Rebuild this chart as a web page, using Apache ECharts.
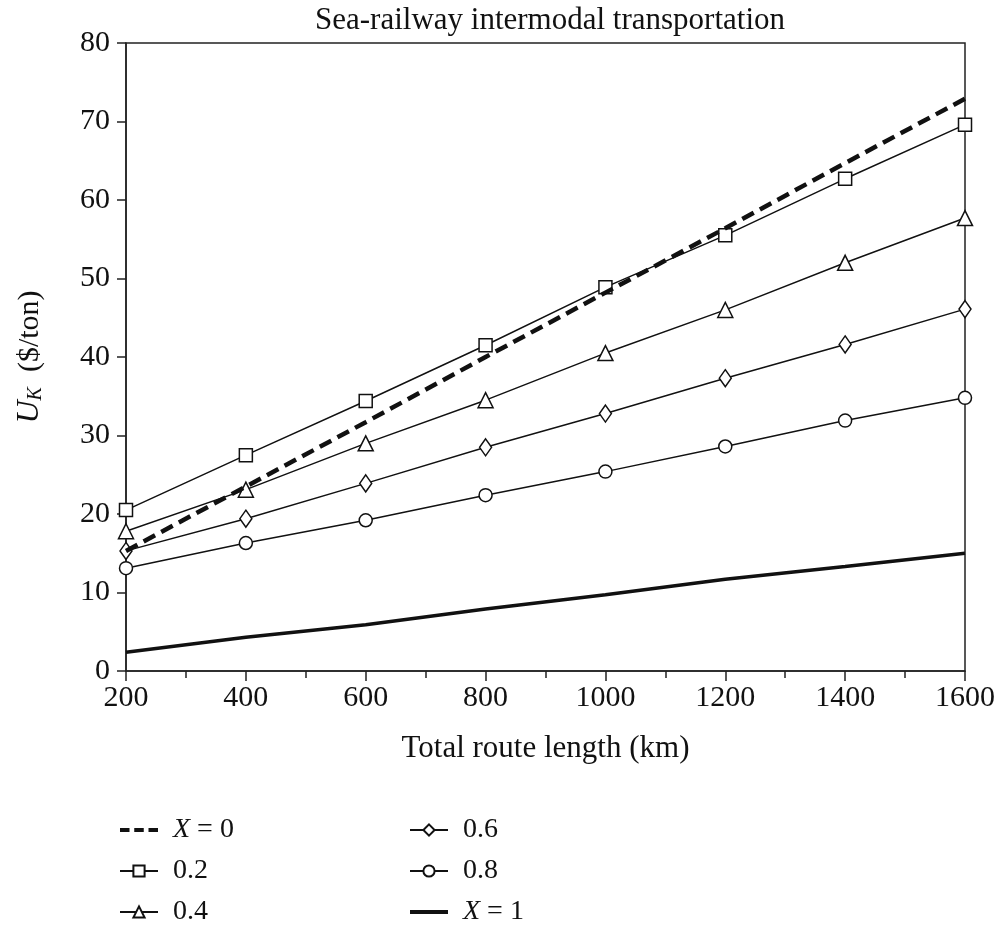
<!DOCTYPE html>
<html>
<head>
<meta charset="utf-8">
<script src="https://cdn.jsdelivr.net/npm/echarts@6/dist/echarts.min.js"></script>
<style>
  html, body { margin: 0; padding: 0; background: #fff; }
  #chart { width: 1002px; height: 928px; }
</style>
</head>
<body>
<div id="chart"></div>
<script>
// route lengths (km)
const routeLength = [200, 400, 600, 800, 1000, 1200, 1400, 1600]

// U_K ($/ton) per share X
const x00 = [15.3, 23.5, 31.7, 40.0, 48.2, 56.4, 64.7, 72.9]
const x02 = [20.5, 27.5, 34.4, 41.5, 48.9, 55.5, 62.7, 69.6]
const x04 = [17.8, 23.1, 29.0, 34.5, 40.5, 46.0, 52.0, 57.7]
const x06 = [15.3, 19.4, 23.9, 28.5, 32.8, 37.3, 41.6, 46.1]
const x08 = [13.1, 16.3, 19.2, 22.4, 25.4, 28.6, 31.9, 34.8]
const x10 = [2.4, 4.3, 5.9, 7.9, 9.7, 11.7, 13.3, 15.0]

const seriesNames = ['X = 0', '0.2', '0.4', '0.6', '0.8', 'X = 1']

const FONT = '"Liberation Serif", "DejaVu Serif", serif'
const INK = '#111'

function pairs(vals) {
  return vals.map((v, i) => [routeLength[i], v])
}

function markedLine(name, vals, symbol, size) {
  return {
    name, type: 'line', data: pairs(vals),
    symbol, symbolSize: size,
    itemStyle: { color: '#fff', borderColor: INK, borderWidth: 1.5 },
    lineStyle: { color: INK, width: 1.5 },
    emphasis: { disabled: true },
    z: 3,
  }
}

const chart = echarts.init(document.getElementById('chart'))

const legendText = {
  fontFamily: FONT, fontSize: 28, color: INK, padding: [0, 0, 0, 10],
  rich: { i: { fontFamily: FONT, fontSize: 28, fontStyle: 'italic', color: INK } },
}
function legendFmt(name) {
  return name.startsWith('X') ? '{i|X}' + name.slice(1) : name
}
// plain line icons for the two series without markers
const dashIcon = 'path://M0,0h10v4h-10z M15,0h10v4h-10z M30,0h10v4h-10z'
const solidIcon = 'path://M0,0h40v4h-40z'

function legendBlock(names, left) {
  return {
    orient: 'vertical', left, top: 811, height: 117,
    itemWidth: 38, itemHeight: 14, itemGap: 13,
    data: names.map(n => {
      if (n === 'X = 0') return { name: n, icon: dashIcon }
      if (n === 'X = 1') return { name: n, icon: solidIcon }
      return { name: n }
    }),
    formatter: legendFmt, textStyle: legendText,
  }
}

chart.setOption({
  animation: false,
  backgroundColor: '#fff',
  title: {
    text: 'Sea-railway intermodal transportation',
    left: 545, top: 0, textAlign: 'center',
    textStyle: { fontFamily: FONT, fontSize: 31, fontWeight: 'normal', color: INK },
  },
  grid: {
    left: 126, right: 37, top: 43, bottom: 257,
    show: true, borderColor: '#222', borderWidth: 1.5, backgroundColor: 'transparent',
  },
  legend: [
    legendBlock(seriesNames.slice(0, 3), 114),
    legendBlock(seriesNames.slice(3), 404),
  ],
  xAxis: {
    type: 'value', min: 200, max: 1600, interval: 200,
    name: 'Total route length (km)', nameLocation: 'middle', nameGap: 62,
    nameTextStyle: { fontFamily: FONT, fontSize: 31, color: INK },
    axisLine: { lineStyle: { color: '#222', width: 1.5 } },
    axisTick: { show: true, inside: false, length: 10, lineStyle: { color: '#222', width: 1.5 } },
    minorTick: { show: true, splitNumber: 2, length: 7, lineStyle: { color: '#222', width: 1.5 } },
    axisLabel: { fontFamily: FONT, fontSize: 30, color: INK, margin: 12, formatter: v => String(v) },
    splitLine: { show: false },
  },
  yAxis: {
    type: 'value', min: 0, max: 80, interval: 10,
    name: '{i|U}{s|K}  ($/ton)', nameLocation: 'middle', nameGap: 80, nameRotate: 90,
    nameTextStyle: {
      fontFamily: FONT, fontSize: 30, color: INK,
      rich: {
        i: { fontFamily: FONT, fontSize: 32, fontStyle: 'italic', color: INK },
        s: { fontFamily: FONT, fontSize: 20, fontStyle: 'italic', color: INK, verticalAlign: 'bottom', padding: [12, 0, 0, 0] },
      },
    },
    axisLine: { show: true, lineStyle: { color: '#222', width: 1.5 } },
    axisTick: { show: true, inside: false, length: 9, lineStyle: { color: '#222', width: 1.5 } },
    axisLabel: { fontFamily: FONT, fontSize: 30, color: INK, margin: 16 },
    splitLine: { show: false },
  },
  series: [
    {
      name: seriesNames[0], type: 'line', data: pairs(x00),
      symbol: 'none', itemStyle: { color: INK },
      lineStyle: { color: INK, width: 4.5, type: [13, 7] },
      emphasis: { disabled: true }, z: 4,
    },
    markedLine(seriesNames[1], x02, 'rect', 13),
    markedLine(seriesNames[2], x04, 'triangle', 15),
    markedLine(seriesNames[3], x06, 'diamond', [12, 17]),
    markedLine(seriesNames[4], x08, 'circle', 13),
    {
      name: seriesNames[5], type: 'line', data: pairs(x10),
      symbol: 'none', itemStyle: { color: INK },
      lineStyle: { color: INK, width: 3.5 },
      emphasis: { disabled: true }, z: 3,
    },
  ],
})
</script>
</body>
</html>
